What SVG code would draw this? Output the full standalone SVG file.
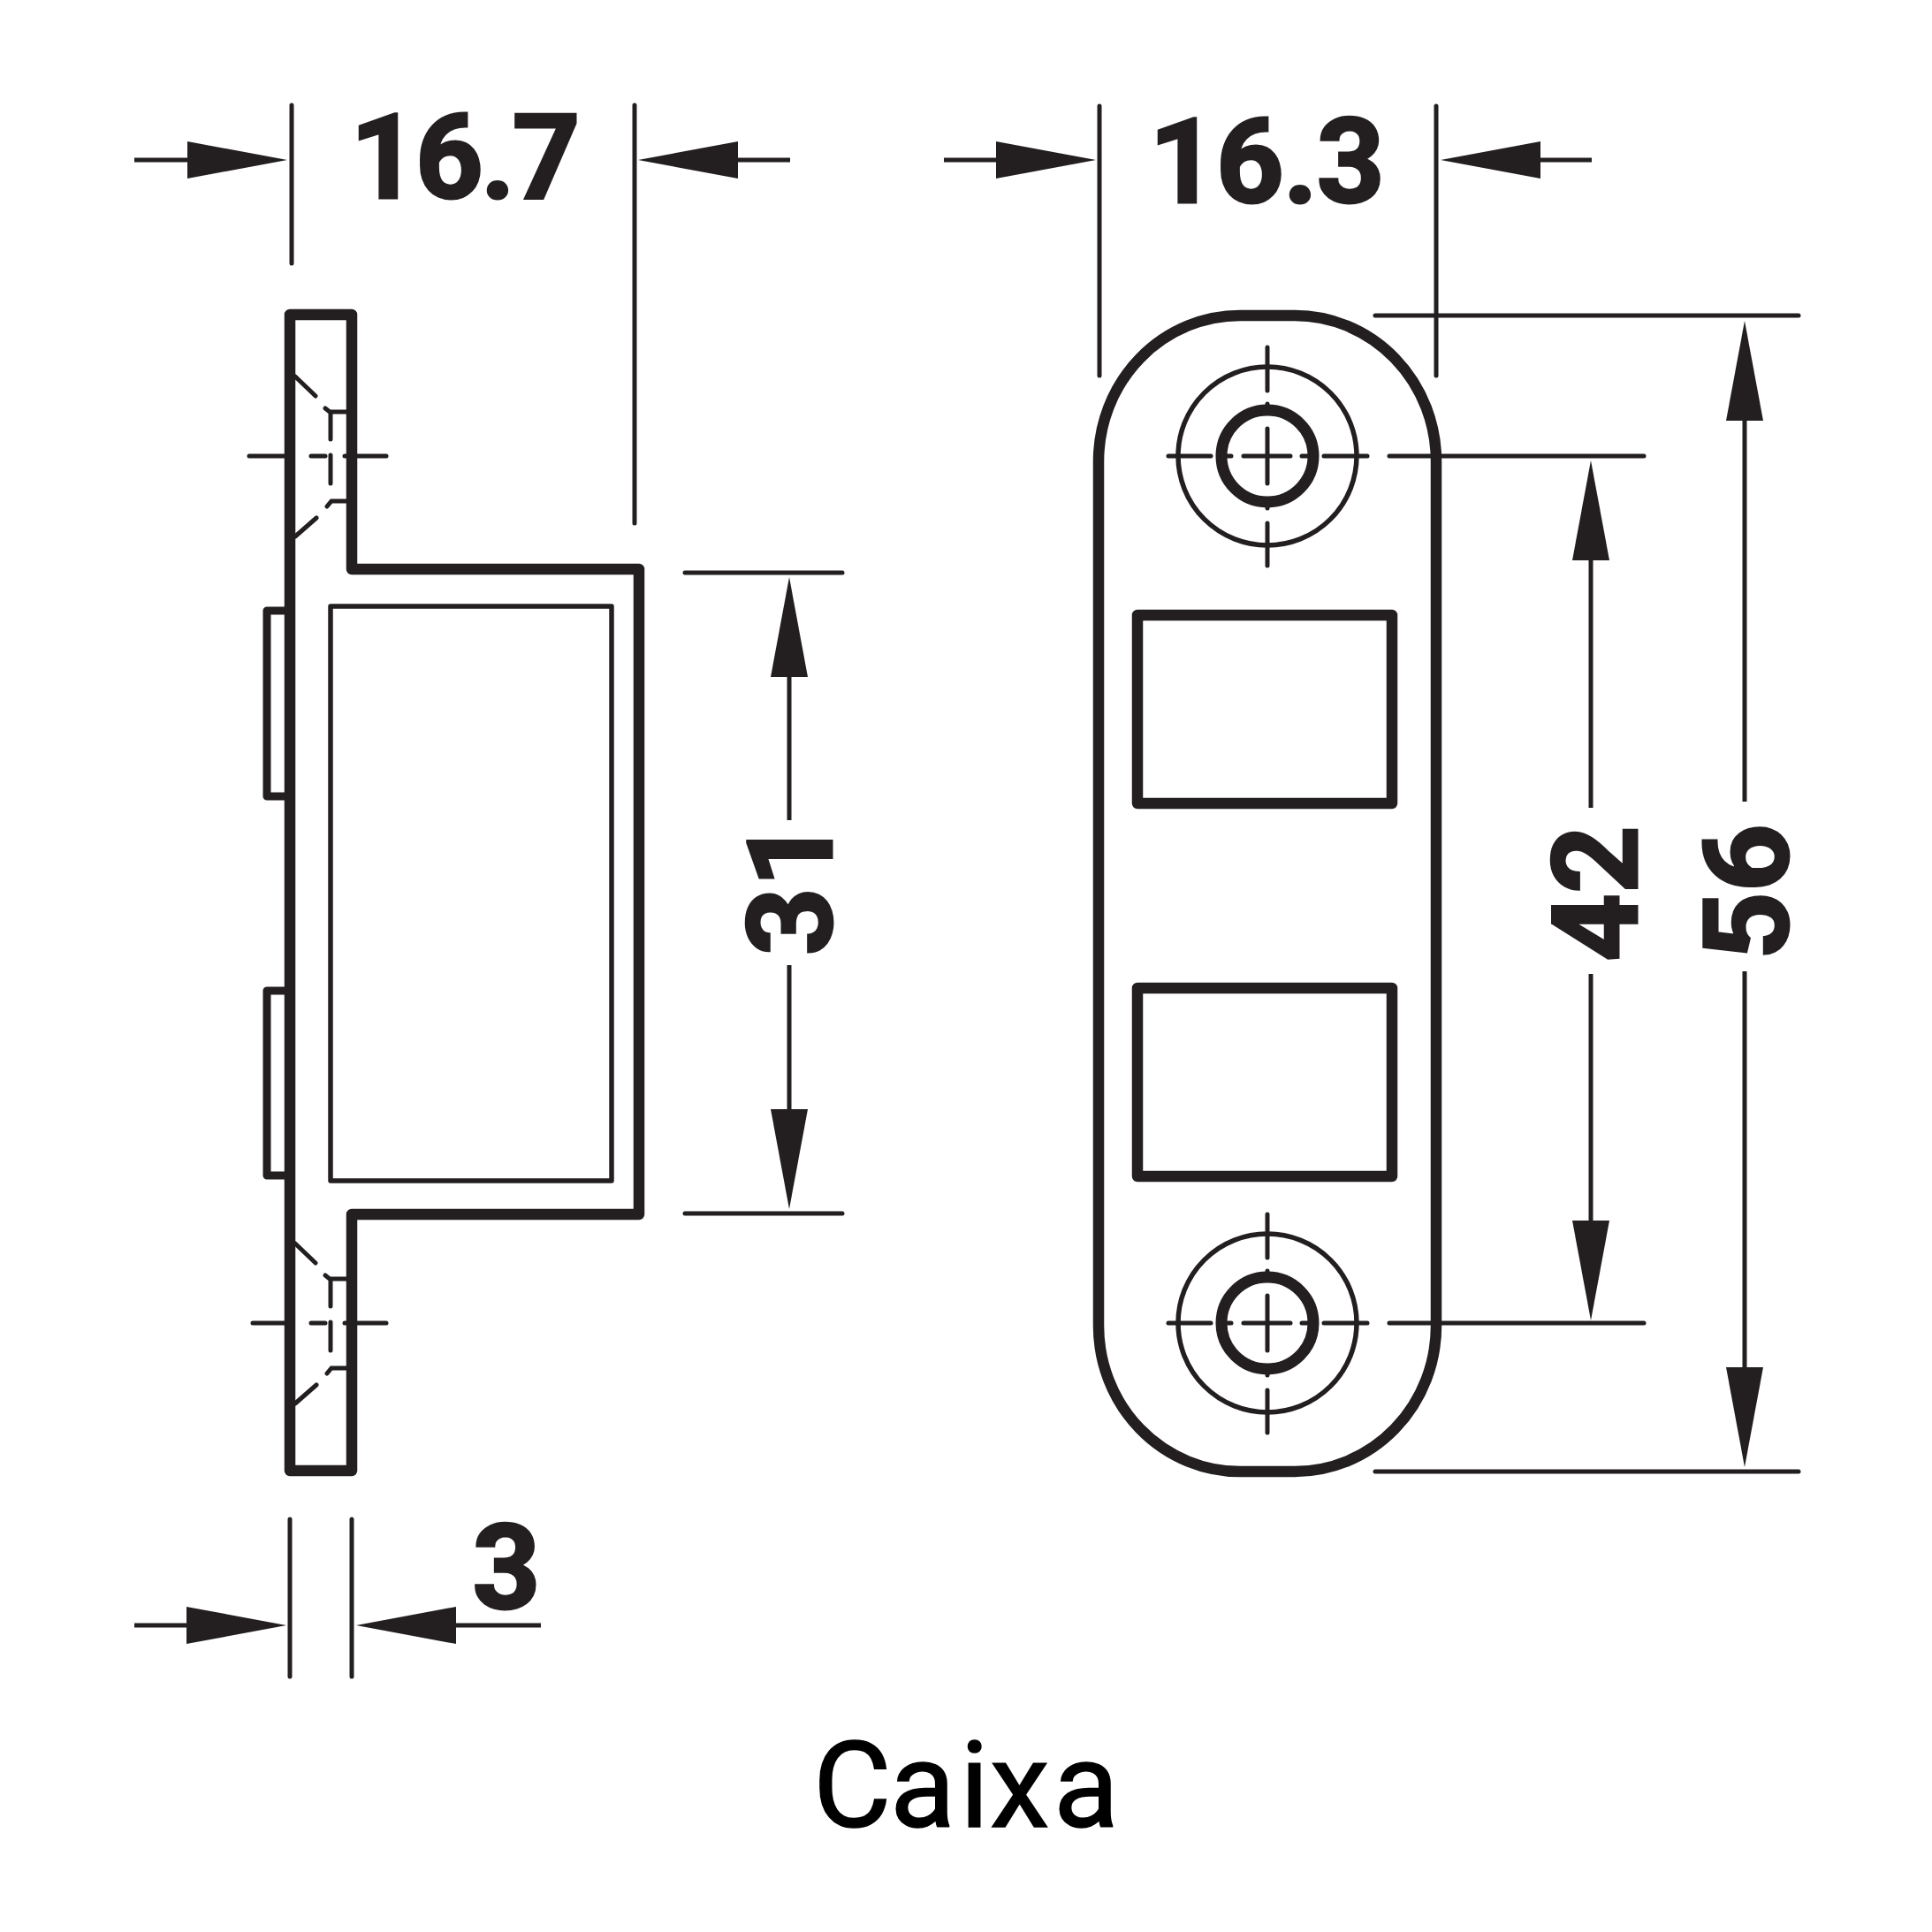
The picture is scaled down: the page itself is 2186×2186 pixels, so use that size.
<svg xmlns="http://www.w3.org/2000/svg" width="2186" height="2186" viewBox="0 0 2186 2186">
<style>
.ink{fill:none;stroke:#231f20;stroke-linejoin:round}
.thick{stroke-width:12.5}
.mid{stroke-width:9}
.fine{stroke-width:5.5}
.dim{stroke:#231f20;stroke-width:5;fill:none;stroke-linecap:round}
.lead{stroke:#231f20;stroke-width:5;fill:none;stroke-linecap:butt}
.num{font-family:Roboto,"Liberation Sans",sans-serif;font-weight:700;font-size:134px;fill:#231f20;stroke:#231f20;stroke-width:3;text-anchor:middle}
.cap{font-family:Roboto,"Liberation Sans",sans-serif;font-weight:400;font-size:136px;fill:#000;stroke:#000;stroke-width:1.5}
</style>
<defs>
<marker id="arrow" markerUnits="userSpaceOnUse" viewBox="0 0 113 42" refX="0" refY="21" markerWidth="113" markerHeight="42" orient="auto"><path d="M0 0L113 21L0 42Z" fill="#231f20"/></marker>
<g id="hole"><circle cx="0" cy="0" r="101" class="ink fine"/><circle cx="0" cy="0" r="52" class="ink" stroke-width="13"/>
<path class="dim" d="M0-123V-74M0-59V-52M0-31V31M0 52V59M0 76V124M-112 0H-64M-47 0H-41M-27 0H26M39 0H46M64 0H113"/></g>
<g id="screwside"><path class="dim" d="M334 426L357 448M368 462L373 466H393M374 466V497M352 516H368M374 515V547M370 573L375 567H393M334 607L358 586"/></g>
</defs>
<rect width="2186" height="2186" fill="#fff"/>
<g id="side-view">
<path class="ink thick" d="M328 356H398V644H723V1374H398V1664H328Z"/>
<rect class="ink fine" x="374" y="686" width="318" height="650"/>
<path class="ink mid" d="M328 691H302V901H328M328 1121H302V1330H328"/>
<use href="#screwside"/>
<use href="#screwside" y="981"/>
</g>
<g id="front-view">
<rect class="ink thick" x="1243" y="357" width="382" height="1308" rx="160" ry="165"/>
<rect class="ink thick" x="1287" y="696" width="288" height="213"/>
<rect class="ink thick" x="1287" y="1118" width="288" height="213"/>
<use href="#hole" x="1434" y="516"/>
<use href="#hole" x="1434" y="1497"/>
</g>
<g id="connectors">
<path class="dim" d="M330 119V298M718 119V592M1244 120V425M1625 120V425M1556 357H2035M1572 516H1860M1572 1497H1860M1556 1665H2035M775 648H953M775 1373H953M328 1719V1897M398 1719V1897M282 516H323M390 516H437M286 1497H323M390 1497H437"/>
<path class="lead" marker-end="url(#arrow)" d="M152 181H212"/>
<path class="lead" marker-end="url(#arrow)" d="M894 181H835"/>
<path class="lead" marker-end="url(#arrow)" d="M1068 181H1127"/>
<path class="lead" marker-end="url(#arrow)" d="M1801 181H1743"/>
<path class="lead" marker-end="url(#arrow)" d="M893 928V766"/>
<path class="lead" marker-end="url(#arrow)" d="M893 1092V1255"/>
<path class="lead" marker-end="url(#arrow)" d="M1800 914V634"/>
<path class="lead" marker-end="url(#arrow)" d="M1800 1102V1381"/>
<path class="lead" marker-end="url(#arrow)" d="M1974 907V476"/>
<path class="lead" marker-end="url(#arrow)" d="M1974 1099V1547"/>
<path class="lead" marker-end="url(#arrow)" d="M152 1839H211"/>
<path class="lead" marker-end="url(#arrow)" d="M612 1839H516"/>
</g>
<g id="labels">
<text class="num" x="525" y="224" letter-spacing="-3">16.7</text>
<text class="num" x="1433" y="229" letter-spacing="-1">16.3</text>
<text class="num" x="573" y="1820">3</text>
<text class="num" transform="translate(941 1004) rotate(-90)">31</text>
<text class="num" transform="translate(1852 1011) rotate(-90)">42</text>
<text class="num" transform="translate(2023 1009) rotate(-90)">56</text>
<text class="cap" x="920 1007 1086 1120 1192" y="2067">Caixa</text>
</g>
</svg>
